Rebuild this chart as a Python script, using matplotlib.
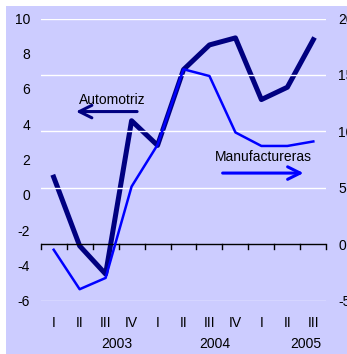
import matplotlib
matplotlib.use("Agg")
import matplotlib.pyplot as plt
from matplotlib.patches import Rectangle, FancyArrowPatch

plt.rcParams['font.family'] = ['Liberation Sans', 'DejaVu Sans']
plt.rcParams['axes.unicode_minus'] = False

quarters = ["I", "II", "III", "IV", "I", "II", "III", "IV", "I", "II", "III"]
years = ["2003", "2004", "2005"]
year_pos = [2.45, 6.2, 9.7]
automotriz = [1.0, -2.9, -4.5, 4.2, 2.8, 7.1, 8.5, 8.9, 5.4, 6.1, 8.8]
manufactureras = [-0.5, -4.0, -3.0, 5.1, 8.8, 15.5, 14.9, 9.9, 8.7, 8.7, 9.1]
left_ticks = [10, 8, 6, 4, 2, 0, -2, -4, -6]
right_ticks = [20, 15, 10, 5, 0, -5]

BG = "#CCCCFF"
NAVY = "#000080"
BLUE = "#0000FF"
FS = 10

W, H = 347, 354
fig = plt.figure(figsize=(W / 100, H / 100), dpi=100)
fig.patch.set_facecolor("white")
fig.patches.append(Rectangle((6 / W, 0), 1 - 6 / W, 1 - 6 / H,
                             transform=fig.transFigure, facecolor=BG,
                             edgecolor="none", zorder=-10))

ax1 = fig.add_axes([40.7 / W, 53.5 / H, 285.6 / W, 282 / H])
ax2 = ax1.twinx()
x = list(range(len(quarters)))

for ax in (ax1, ax2):
    ax.set_facecolor("none")
    for s in ax.spines.values():
        s.set_visible(False)
    ax.tick_params(length=0, labelsize=FS, colors="black")
    ax.set_xlim(-0.5, len(quarters) - 0.5)

ax1.set_ylim(-6, 10)
ax2.set_ylim(-5, 20)
ax1.set_yticks(left_ticks)
ax2.set_yticks(right_ticks)
ax1.tick_params(axis="y", pad=7.7)
ax2.tick_params(axis="y", pad=8.6)
ax1.set_xticks([])

# white grid lines on the right-hand scale
for v in right_ticks:
    if v != 0:
        ax2.axhline(v, color="white", lw=1.0, zorder=0)

# category axis drawn at zero on the right scale
ax2.axhline(0, color="black", lw=1.0, zorder=1)
for b in range(len(quarters) + 1):
    ax2.plot([b - 0.5, b - 0.5], [0, -0.45], color="black", lw=1.0,
             clip_on=False, zorder=1)

ax1.plot(x, automotriz, color=NAVY, lw=3.6, zorder=3)
ax2.plot(x, manufactureras, color=BLUE, lw=1.8, zorder=4)

# quarter and year labels
for i, q in enumerate(quarters):
    ax1.text(i, -7.3, q, ha="center", va="center", fontsize=FS, clip_on=False)
for p, y in zip(year_pos, years):
    ax1.text(p, -8.45, y, ha="center", va="center", fontsize=FS, clip_on=False)

# series labels with pointing arrows
ax1.text(2.24, 5.4, "Automotriz", ha="center", va="center", fontsize=FS)
ax1.add_patch(FancyArrowPatch((3.32, 4.72), (0.75, 4.72),
                              arrowstyle="->,head_length=0.9,head_width=0.45",
                              mutation_scale=10, color=NAVY, lw=2.2, zorder=5))
ax1.text(8.09, 2.12, "Manufactureras", ha="center", va="center", fontsize=FS)
ax1.add_patch(FancyArrowPatch((6.4, 1.23), (9.73, 1.23),
                              arrowstyle="->,head_length=0.9,head_width=0.45",
                              mutation_scale=10, color=BLUE, lw=2.2, zorder=5))

fig.savefig("out.png", dpi=100)
